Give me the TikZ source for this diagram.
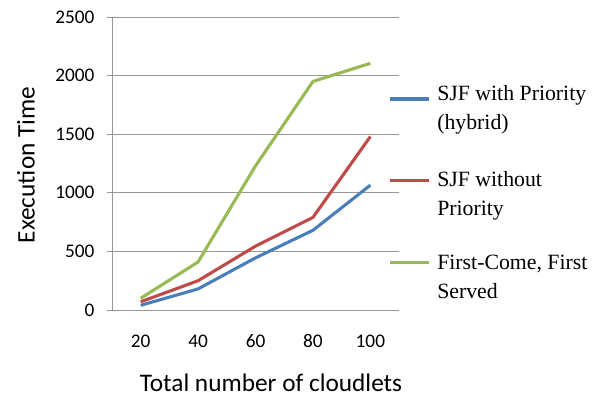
\documentclass[tikz,border=0pt]{standalone}
\usepackage{fontspec}
\setmainfont{Liberation Serif}
\newfontfamily\axisfont{Carlito}
\usetikzlibrary{positioning}
\definecolor{sjfblue}{RGB}{74,126,187}
\definecolor{sjfred}{RGB}{190,75,72}
\definecolor{fcfsgreen}{RGB}{152,185,84}
\definecolor{gridgray}{RGB}{150,150,150}

\begin{document}
\begin{tikzpicture}[x=0.025cm,y=0.025cm,
  series/.style={line width=2.2pt, line join=round},
  gridline/.style={gridgray, line width=0.6pt},
  ticklabel/.style={font=\axisfont\fontsize{13.7}{16}\selectfont, inner sep=0pt},
  axistitle/.style={font=\axisfont\fontsize{18}{21}\selectfont, inner sep=0pt},
  legendtext/.style={font=\fontsize{15.5}{20.6}\selectfont, align=left, anchor=west, inner sep=0pt}]
\useasboundingbox (0,0) rectangle (608,396);

% Plot area: categories on x, execution time on y
\begin{scope}[shift={(112,86)}, x=1.435cm, y=0.00293cm]
\foreach \v in {0,500,...,2500} {
    \draw[gridline] (-0.087,\v) -- (5,\v);
    \node[ticklabel, anchor=east] (y\v) at (-0.3,\v) {\v};
}
\draw[gridline] (0,0) -- (0,2500);
\foreach \c [count=\i] in {20,40,60,80,100}
    \node[ticklabel] (x\c) at (\i-0.5,-264) {\c};

% Series
\draw[series, sjfblue] plot coordinates {(0.5,40) (1.5,180) (2.5,445) (3.5,680) (4.5,1065)};
\draw[series, sjfred] plot coordinates {(0.5,70) (1.5,250) (2.5,545) (3.5,790) (4.5,1480)};
\draw[series, fcfsgreen] plot coordinates {(0.5,100) (1.5,410) (2.5,1230) (3.5,1950) (4.5,2105)};
\end{scope}

% Axis titles
\node[axistitle, rotate=90] (ytitle) at (26,231) {Execution Time};
\node[axistitle] (xtitle) at (271,13) {Total number of cloudlets};

% Legend
\node[legendtext] (leg1) at (437,286.5) {SJF with Priority\\(hybrid)};
\node[legendtext] (leg2) at (437,200.6) {SJF without\\Priority};
\node[legendtext] (leg3) at (437,119.5) {First-Come, First\\Served};
\draw[series, sjfblue] (390,297) -- (429,297);
\draw[series, sjfred] (390,215.3) -- (429,215.3);
\draw[series, fcfsgreen] (390,133.3) -- (429,133.3);
\end{tikzpicture}
\end{document}
